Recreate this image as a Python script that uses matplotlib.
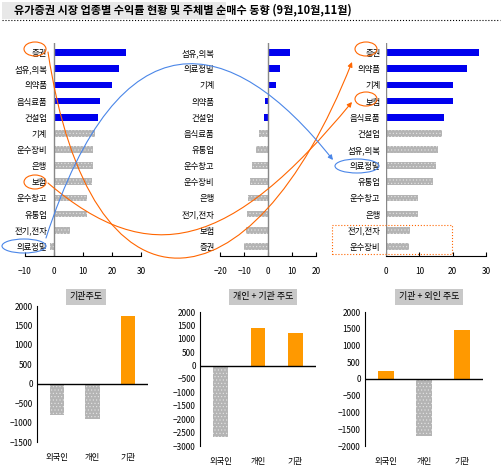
import matplotlib
matplotlib.use('Agg')
import matplotlib.pyplot as plt
from matplotlib.path import Path
from matplotlib.patches import FancyArrowPatch, Ellipse, Rectangle
from matplotlib.transforms import IdentityTransform

plt.rcParams['font.family'] = ['Noto Sans CJK KR', 'DejaVu Sans']
plt.rcParams['font.size'] = 6
plt.rcParams['hatch.color'] = '#e6e6e6'
plt.rcParams['hatch.linewidth'] = 0.4

# top panels: sector returns (%), top to bottom
sep_labels = ['증권', '섬유,의복', '의약품', '음식료품', '건설업', '기계', '운수장비', '은행',
              '보험', '운수창고', '유통업', '전기,전자', '의료정밀']
sep_vals = [24.8, 22.5, 20, 16, 15, 14, 13.5, 13.5, 13, 11.5, 11.5, 5.5, -1.5]
oct_labels = ['섬유,의복', '의료정밀', '기계', '의약품', '건설업', '음식료품', '유통업', '운수창고',
              '운수장비', '은행', '전기,전자', '보험', '증권']
oct_vals = [9.3, 5.2, 3.2, -1.2, -1.7, -3.8, -4.8, -6.6, -7.6, -8.5, -8.6, -9.3, -9.8]
nov_labels = ['증권', '의약품', '기계', '보험', '음식료품', '건설업', '섬유,의복', '의료정밀',
              '유통업', '운수창고', '은행', '전기,전자', '운수장비']
nov_vals = [27.8, 24.2, 20, 20, 17.5, 16.8, 15.5, 15, 14.2, 9.7, 9.7, 7.2, 7]

# bottom panels: net buying by investor
investors = ['외국인', '개인', '기관']
net_a = [-800, -900, 1730]
net_b = [-2650, 1400, 1200]
net_c = [230, -1700, 1470]

W, H = 503, 467
fig = plt.figure(figsize=(W / 100, H / 100), dpi=100)
fig.patch.set_facecolor('white')

def ax_px(x0, y0, x1, y1):
    # pixel box (top-left origin) -> axes
    return fig.add_axes([x0 / W, 1 - y1 / H, (x1 - x0) / W, (y1 - y0) / H])

def top_panel(box, labels, vals, lim, ticks, nblue, pad=4):
    ax = ax_px(*box)
    pos = list(range(len(vals)))
    colors = ['#0000ee'] * nblue + ['#b4b4b4'] * (len(vals) - nblue)
    bars = ax.barh(pos, vals, height=0.42, color=colors)
    for b in bars[nblue:]:
        b.set_hatch('.....')
    ax.set_yticks(pos)
    ax.set_yticklabels(labels)
    ax.invert_yaxis()
    ax.set_ylim(len(vals) - 0.4, -0.6)
    ax.set_xlim(*lim)
    ax.set_xticks(ticks)
    ax.axvline(0, color='#888888', lw=1)
    for s in ['top', 'right', 'left']:
        ax.spines[s].set_visible(False)
    ax.tick_params(axis='y', length=0, pad=pad)
    ax.tick_params(axis='x', direction='in', length=3, pad=8)
    return ax

top_panel((25, 43, 141, 256), sep_labels, sep_vals, (-10, 30), [-10, 0, 10, 20, 30], 5, pad=-16)
top_panel((220, 43, 316, 256), oct_labels, oct_vals, (-20, 20), [-20, -10, 0, 10, 20], 5)
top_panel((386, 43, 486, 256), nov_labels, nov_vals, (0, 30), [0, 10, 20, 30], 5)

def bottom_panel(box, vals, lim, ticks, title, tx, ty):
    ax = ax_px(*box)
    colors = ['#ff9900' if v > 0 else '#b4b4b4' for v in vals]
    bars = ax.bar(investors, vals, width=0.4, color=colors)
    for b, v in zip(bars, vals):
        if v < 0:
            b.set_hatch('.....')
    ax.set_ylim(*lim)
    ax.set_yticks(ticks)
    ax.set_xlim(-0.55, 2.55)
    ax.axhline(0, color='black', lw=1)
    for s in ['top', 'right', 'bottom']:
        ax.spines[s].set_visible(False)
    ax.tick_params(axis='x', length=0, pad=8)
    ax.tick_params(axis='y', length=0, pad=3)
    fig.text(tx / W, 1 - ty / H, title, ha='center', va='center', fontsize=6.5,
             bbox=dict(boxstyle='square,pad=0.4', fc='#c8c8c8', ec='none'))
    return ax

bottom_panel((37, 306, 148, 442), net_a, (-1500, 2000), range(-1500, 2001, 500), '기관주도', 86, 297)
bottom_panel((200, 312, 316, 446), net_b, (-3000, 2000), range(-3000, 2001, 500), '개인 + 기관 주도', 263, 297)
bottom_panel((365, 312, 483, 446), net_c, (-2000, 2000), range(-2000, 2001, 500), '기관 + 외인 주도', 429, 297)

# title
fig.text(14 / W, 1 - 10 / H, '유가증권 시장 업종별 수익률 현황 및 주체별 순매수 동향 (9월,10월,11월)',
         fontsize=8, fontweight='bold', va='center')
fig.add_artist(Rectangle((2, H - 19), 224, 17, transform=IdentityTransform(),
                         fc='#e8e8e8', ec='none', zorder=-1))
fig.add_artist(plt.Line2D([2, 500], [H - 20, H - 20], transform=IdentityTransform(),
                          color='black', lw=0.8, ls=':'))

def px(x, y):
    return (x, H - y)

def curve(pts, color):
    path = Path([px(*p) for p in pts], [Path.MOVETO, Path.CURVE4, Path.CURVE4, Path.CURVE4])
    fig.add_artist(FancyArrowPatch(path=path, arrowstyle='-|>', mutation_scale=7,
                                   color=color, lw=0.8, transform=IdentityTransform()))

orange = '#ff6600'
blue = '#4a86e8'
curve([(48, 52), (90, 330), (250, 320), (352, 62)], orange)
curve([(48, 183), (150, 270), (230, 250), (352, 102)], orange)
curve([(46, 238), (120, 10), (230, 30), (333, 160)], blue)

def ell(x, y, w, h, color):
    fig.add_artist(Ellipse(px(x, y), w, h, transform=IdentityTransform(),
                           fill=False, ec=color, lw=0.8))

ell(35, 49, 22, 14, orange)
ell(35, 182, 22, 14, orange)
ell(24, 246, 44, 14, blue)
ell(366, 49, 22, 14, orange)
ell(366, 99, 22, 14, orange)
ell(357, 166, 44, 14, blue)
fig.add_artist(Rectangle(px(332, 254), 120, 29, transform=IdentityTransform(),
                         fill=False, ec=orange, lw=0.8, ls=':'))

fig.savefig('out.png', dpi=100)
